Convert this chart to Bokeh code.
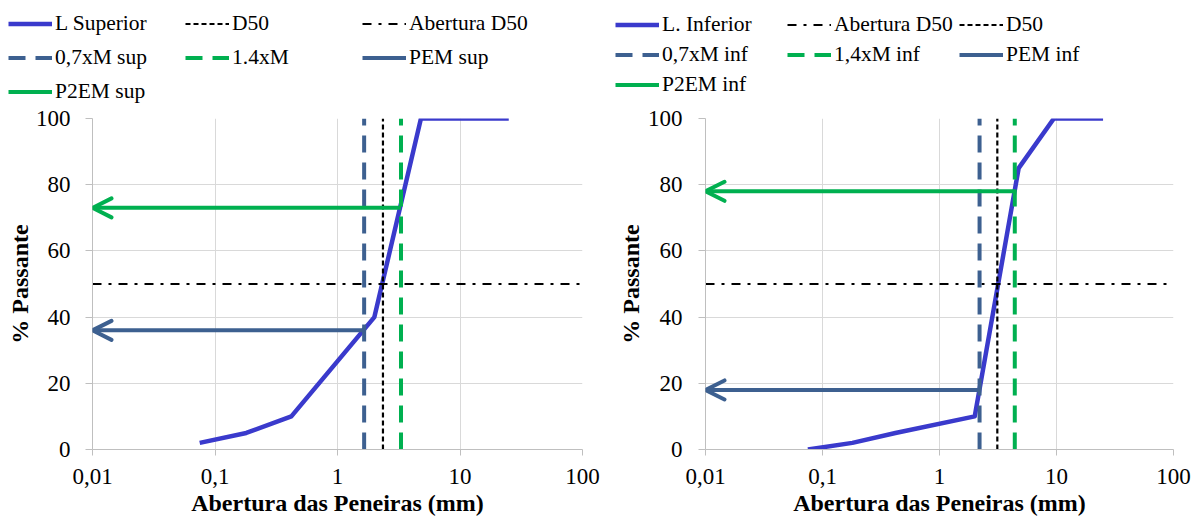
from bokeh.plotting import figure
from bokeh.models import (Legend, LegendItem, Arrow, OpenHead, FixedTicker,
                          CustomJSTickFormatter, ColumnDataSource)
from bokeh.layouts import row, column
from bokeh.embed import file_html
from bokeh.resources import INLINE

# ---------------- data ----------------
x_ticks = [0.01, 0.1, 1, 10, 100]
y_ticks = [0, 20, 40, 60, 80, 100]
passing_50 = 50

# upper limit (left panel)
sup_sieve = [0.075, 0.18, 0.42, 2.0, 4.8, 25]
sup_pass = [2, 5, 10, 40, 100, 100]
sup_d50 = 2.35
sup_07m = 1.65
sup_14m = 3.3
sup_pem = 36
sup_p2em = 73
sup_labels = ["L Superior", "D50", "Abertura D50", "0,7xM sup", "1.4xM",
              "PEM sup", "P2EM sup"]
sup_order = ["curve", "d50", "ab50", "m07", "m14", "pem", "p2em"]

# lower limit (right panel)
inf_sieve = [0.075, 0.18, 0.42, 2.0, 4.75, 9.5, 25]
inf_pass = [0, 2, 5, 10, 85, 100, 100]
inf_d50 = 3.12
inf_07m = 2.2
inf_14m = 4.4
inf_pem = 18
inf_p2em = 78
inf_labels = ["L. Inferior", "Abertura D50", "D50", "0,7xM inf", "1,4xM inf",
              "PEM inf", "P2EM inf"]
inf_order = ["curve", "ab50", "d50", "m07", "m14", "pem", "p2em"]

# ---------------- styles ----------------
C_CURVE = "#3a3acc"
C_SLATE = "#3d6090"
C_GREEN = "#00b050"
FONT = "Liberation Serif"
STY = {
    "curve": dict(line_color=C_CURVE, line_width=4.5),
    "d50": dict(line_color="black", line_width=2.2, line_dash="5 3"),
    "ab50": dict(line_color="black", line_width=2.2, line_dash="9 7 3 7"),
    "m07": dict(line_color=C_SLATE, line_width=4, line_dash="17 10"),
    "m14": dict(line_color=C_GREEN, line_width=4, line_dash="17 10"),
    "pem": dict(line_color=C_SLATE, line_width=4),
    "p2em": dict(line_color=C_GREEN, line_width=4),
}
LEG_H = 104
PLOT_H = 524 - LEG_H


def series(sieve, passing, d50, m07, m14, pem, p2em):
    xmin, xmax = x_ticks[0], x_ticks[-1]
    ymin, ymax = y_ticks[0], y_ticks[-1]
    return {
        "curve": (sieve, passing),
        "d50": ([d50, d50], [ymin, ymax]),
        "ab50": ([xmin, xmax], [passing_50, passing_50]),
        "m07": ([m07, m07], [ymin, ymax]),
        "m14": ([m14, m14], [ymin, ymax]),
        "pem": ([m07, xmin], [pem, pem]),
        "p2em": ([m14, xmin], [p2em, p2em]),
    }


def panel(data, width, b_left, b_right, b_top, b_bottom,
          x_std, xlab_std, y_std, ylab_std):
    xmin, xmax = x_ticks[0], x_ticks[-1]
    ymin, ymax = y_ticks[0], y_ticks[-1]
    p = figure(width=width, height=PLOT_H, x_axis_type="log",
               x_range=(xmin, xmax), y_range=(ymin, ymax),
               output_backend="svg", toolbar_location=None,
               min_border_left=b_left, min_border_right=b_right,
               min_border_top=b_top, min_border_bottom=b_bottom)
    p.outline_line_color = None
    xt = FixedTicker(ticks=x_ticks)
    yt = FixedTicker(ticks=y_ticks)
    p.xaxis.ticker = xt
    p.yaxis.ticker = yt
    p.xgrid.ticker = xt
    p.ygrid.ticker = yt
    p.xaxis.formatter = CustomJSTickFormatter(
        code="return String(tick).replace('.', ',')")
    for g in (p.xgrid, p.ygrid):
        g.grid_line_color = "#d9d9d9"
    for ax in (p.xaxis, p.yaxis):
        ax.axis_line_color = "#bfbfbf"
        ax.major_tick_line_color = "#bfbfbf"
        ax.minor_tick_line_color = None
        ax.major_tick_in = 0
        ax.major_tick_out = 6
        ax.major_label_text_font = FONT
        ax.major_label_text_font_size = "23px"
        ax.major_label_text_color = "black"
        ax.axis_label_text_font = FONT
        ax.axis_label_text_font_size = "24px"
        ax.axis_label_text_font_style = "bold"
        ax.axis_label_text_color = "black"
    p.yaxis.major_tick_out = 7
    p.xaxis.axis_label = "Abertura das Peneiras (mm)"
    p.yaxis.axis_label = "% Passante"
    p.xaxis.major_label_standoff = x_std
    p.xaxis.axis_label_standoff = xlab_std
    p.yaxis.major_label_standoff = y_std
    p.yaxis.axis_label_standoff = ylab_std

    p.line(*data["curve"], line_join="round", **STY["curve"])
    for key in ("d50", "ab50", "m07", "m14"):
        xs, ys = data[key]
        p.segment(x0=[xs[0]], y0=[ys[0]], x1=[xs[1]], y1=[ys[1]], **STY[key])
    for key in ("pem", "p2em"):
        xs, ys = data[key]
        col = STY[key]["line_color"]
        src = ColumnDataSource(dict(xs=[xs[0]], ys=[ys[0]], xe=[xs[1]], ye=[ys[1]]))
        p.add_layout(Arrow(end=OpenHead(size=19, line_color=col, line_width=4,
                                        line_join="round", line_cap="round"),
                           x_start="xs", y_start="ys", x_end="xe", y_end="ye",
                           source=src, line_color=col, line_width=4))
    return p


sup_data = series(sup_sieve, sup_pass, sup_d50, sup_07m, sup_14m, sup_pem, sup_p2em)
inf_data = series(inf_sieve, inf_pass, inf_d50, inf_07m, inf_14m, inf_pem, inf_p2em)

left = panel(sup_data, 600, 92, 18, 14, 75, 13, 3, 15, 0)
right = panel(inf_data, 601, 105, 28, 14, 75, 13, 3, 16, 1)

# ---------------- legend strip (both legends) ----------------
# the proxies carry the same series but lie outside this strip's view,
# so only their legend samples show
leg = figure(width=1201, height=LEG_H, x_range=(-3, -2), y_range=(-3, -2),
             output_backend="svg", toolbar_location=None,
             x_axis_location=None, y_axis_location=None,
             min_border=0, min_border_left=0, min_border_right=0,
             min_border_top=0, min_border_bottom=0)
leg.grid.visible = False
leg.outline_line_color = None
proxy = {k: leg.line(*sup_data[k], **STY[k]) for k in STY}


def make_legend(labels, order, xy, label_width, spacing):
    return Legend(items=[LegendItem(label=l, renderers=[proxy[k]])
                         for l, k in zip(labels, order)],
                  location=xy, orientation="horizontal", ncols=3,
                  glyph_width=44, glyph_height=25, label_height=25,
                  label_width=label_width, label_standoff=3, spacing=spacing,
                  padding=0, margin=0, border_line_color=None,
                  background_fill_alpha=0, label_text_font=FONT,
                  label_text_font_size="21.5px", label_text_color="black")


leg.add_layout(make_legend(sup_labels, sup_order, (8, 0), 121, 9))
leg.add_layout(make_legend(inf_labels, inf_order, (615, 7), 120, 5))

layout = column(leg, row(left, right))
open("out.html", "w").write(file_html(layout, INLINE))
